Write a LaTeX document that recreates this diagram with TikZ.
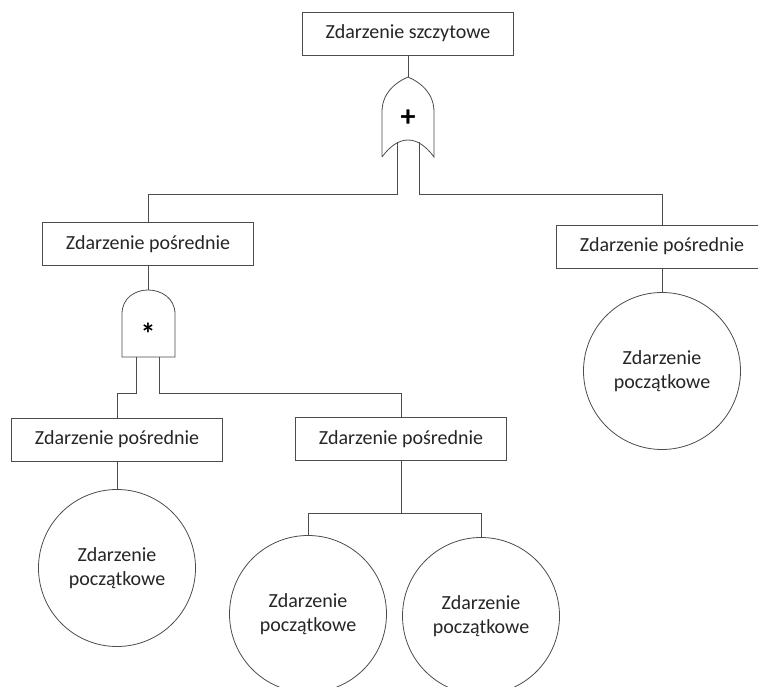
\documentclass[tikz,border=0pt]{standalone}
\usepackage{fontspec}
\setmainfont{Carlito}

\tikzset{
  event/.style={draw=black!70, line width=0.8pt, rectangle, minimum width=211pt, minimum height=43pt, inner sep=0pt, text=black!85},
  basic/.style={draw=black!70, line width=0.8pt, circle, minimum size=157pt, inner sep=0pt, align=center, text=black!85},
  wire/.style={draw=black!70, line width=0.8pt},
  gatemark/.style={font=\fontsize{30}{30}\selectfont\bfseries, inner sep=0pt},
}

\begin{document}
\begin{tikzpicture}[x=1pt, y=-1pt, font=\fontsize{20}{23.5}\selectfont]
\clip (0,0) rectangle (758,687);
\fill[white] (0,0) rectangle (758,687);

% events
\node[event] (top) at (408,33.5) {Zdarzenie szczytowe};
\node[event] (midL) at (148,244) {Zdarzenie pośrednie};
\node[event] (midR) at (662,246.5) {Zdarzenie pośrednie};
\node[event] (botL) at (117,439.5) {Zdarzenie pośrednie};
\node[event] (botM) at (401,439) {Zdarzenie pośrednie};

% basic events
\node[basic] (cR) at (662,371) {Zdarzenie\\początkowe};
\node[basic] (cL) at (117,568) {Zdarzenie\\początkowe};
\node[basic] (cM1) at (308,614) {Zdarzenie\\początkowe};
\node[basic] (cM2) at (481,616) {Zdarzenie\\początkowe};

% OR gate
\draw[wire] (382,157) -- (382,112)
  .. controls (382,94) and (394,83) .. (408,77)
  .. controls (422,83) and (434,94) .. (434,112) -- (434,157)
  .. controls (426,146) and (417,140) .. (408,140)
  .. controls (399,140) and (390,146) .. (382,157);
\coordinate (orTop) at (408,77);
\coordinate (orL) at (397,142);
\coordinate (orR) at (419,142);
\node[gatemark] (plus) at (408,118) {+};

% AND gate
\draw[wire] (122,357) -- (122,314)
  .. controls (122,298) and (135,290) .. (148,290)
  .. controls (161,290) and (175,298) .. (175,314) -- (175,357) -- cycle;
\coordinate (andTop) at (148,290);
\coordinate (andL) at (136,357);
\coordinate (andR) at (159,357);
\node[gatemark] (star) at (148,334) {*};

% connectors
\draw[wire] (top.south) -- (orTop);
\draw[wire] (orL) -- ++(0,52) -| (midL.north);
\draw[wire] (orR) -- ++(0,52) -| (midR.north);
\draw[wire] (midL.south) -- (andTop);
\draw[wire] (midR.south) -- (cR.north);
\draw[wire] (andL) -- ++(0,36) -| (botL.north);
\draw[wire] (andR) -- ++(0,36) -| (botM.north);
\draw[wire] (botL.south) -- (cL.north);
\draw[wire] (botM.south) -- ++(0,52) coordinate (split);
\draw[wire] (cM1.north) |- (split) -| (cM2.north);

\end{tikzpicture}
\end{document}
